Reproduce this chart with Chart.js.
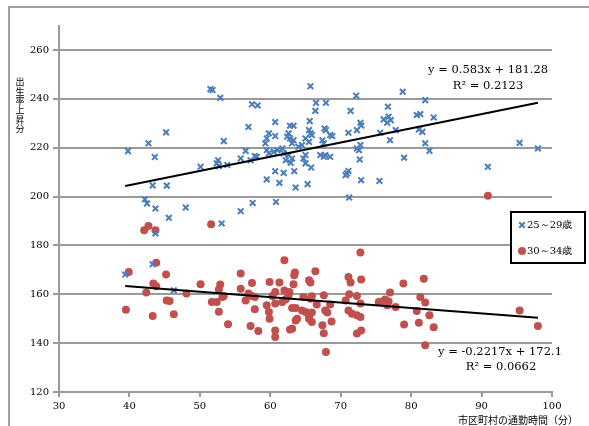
<!DOCTYPE html>
<html>
<head>
<meta charset="utf-8">
<script src="https://cdn.jsdelivr.net/npm/chart.js@4.4.0/dist/chart.umd.min.js"></script>
<style>
  html, body { margin: 0; padding: 0; background: #fff; }
</style>
</head>
<body>
<canvas id="chart" width="589" height="426"></canvas>
<script>
// 25~29 age group: [commute minutes, birth rate increase]
const age25to29 = [
    [39.8, 218.6], [42.7, 221.8], [43.6, 216.2], [45.2, 226.3], [43.3, 204.6], [45.3, 204.5],
    [42.2, 198.9], [42.5, 197.2], [43.7, 195.1], [45.6, 191.3], [48.0, 195.5], [50.1, 212.2],
    [51.5, 244.0], [51.8, 243.6], [52.9, 240.4], [53.4, 222.7], [52.6, 214.9], [52.4, 213.6],
    [52.7, 212.5], [53.9, 212.9], [55.8, 215.6], [56.5, 218.7], [56.9, 228.5], [57.2, 214.9],
    [57.8, 216.6], [57.4, 237.8], [58.2, 237.3], [55.8, 194.0], [57.5, 197.4], [53.1, 189.0],
    [43.7, 184.9], [43.3, 172.3], [39.4, 168.1], [46.3, 161.6],
    [65.7, 245.2], [66.5, 238.4], [67.9, 238.4], [66.4, 235.1], [60.7, 230.5], [62.8, 229.0],
    [63.3, 229.0], [65.6, 230.9], [67.7, 227.9], [67.9, 227.2], [59.8, 225.9], [59.5, 223.8],
    [59.3, 221.8], [60.7, 224.8], [62.6, 225.9], [62.4, 224.5], [62.8, 223.8], [65.5, 227.2],
    [65.7, 225.9], [65.9, 225.2], [65.0, 223.8], [65.5, 222.4], [63.3, 223.1], [63.1, 221.8],
    [67.4, 223.1], [67.6, 221.8], [68.5, 225.2], [59.5, 219.0], [59.8, 217.7], [60.5, 218.3],
    [61.0, 219.0], [61.7, 219.7], [61.9, 217.7], [64.0, 220.4], [64.5, 221.1], [62.6, 217.0],
    [63.1, 215.6], [65.0, 217.0], [67.1, 217.0], [67.6, 216.3], [67.8, 217.0], [58.1, 216.3],
    [62.2, 214.9], [62.9, 213.8], [64.7, 215.6], [65.0, 213.6], [65.8, 211.9], [60.7, 210.4],
    [61.9, 209.7], [63.4, 210.4], [59.5, 207.0], [61.3, 205.6], [63.6, 203.7], [65.3, 205.1],
    [60.8, 197.8],
    [72.2, 241.3], [78.8, 242.9], [71.4, 235.1], [76.7, 236.8], [76.1, 231.6], [76.8, 232.7],
    [76.6, 230.2], [77.1, 231.3], [72.8, 230.2], [72.9, 229.1], [72.3, 227.2], [71.1, 226.1],
    [68.8, 224.8], [75.6, 226.1], [77.8, 227.2], [77.0, 223.1], [72.8, 221.1], [72.3, 219.7],
    [72.6, 219.0], [68.5, 216.3], [72.7, 215.2], [79.0, 215.9], [71.1, 210.5], [70.7, 208.8],
    [70.9, 209.5], [72.9, 206.7], [75.5, 206.4], [71.2, 199.6], [82.0, 239.5], [80.8, 233.4],
    [81.3, 233.8], [83.2, 232.4], [81.1, 227.5], [81.6, 226.5], [82.0, 221.8], [82.6, 218.7],
    [95.4, 222.0], [98.0, 219.7], [90.9, 212.2]
];

// 30~34 age group
const age30to34 = [
    [42.1, 186.2], [42.7, 188.0], [43.7, 186.2], [51.6, 188.7], [43.8, 172.9], [39.9, 169.1],
    [45.2, 168.1], [43.4, 164.4], [43.8, 163.3], [42.4, 160.7], [50.1, 164.1], [55.8, 168.5],
    [52.9, 164.0], [52.7, 162.0], [57.4, 164.6], [48.1, 160.3], [55.8, 162.3], [56.9, 160.3],
    [57.4, 159.3], [45.3, 157.5], [45.7, 157.3], [51.7, 156.8], [52.4, 156.8], [53.2, 158.9],
    [53.4, 159.3], [56.5, 157.5], [57.8, 158.9], [39.5, 153.7], [43.3, 151.1], [46.3, 151.8],
    [52.7, 152.9], [57.8, 153.9], [54.0, 147.7], [57.2, 147.0], [58.3, 145.0],
    [59.9, 165.0], [61.3, 164.8], [62.0, 173.9], [63.5, 168.9], [63.4, 167.8], [66.4, 169.4],
    [65.5, 165.7], [65.7, 164.8], [63.3, 164.1], [62.0, 161.6], [62.7, 160.9], [60.7, 160.9],
    [60.3, 159.3], [60.7, 156.2], [61.7, 156.8], [62.2, 158.0], [62.6, 159.6], [64.7, 158.9],
    [65.7, 158.2], [65.9, 159.2], [66.6, 155.8], [67.6, 159.6], [59.5, 155.5], [59.8, 152.8],
    [59.9, 150.0], [63.1, 154.4], [63.6, 154.4], [64.5, 153.4], [65.0, 152.8], [65.5, 151.4],
    [65.9, 152.5], [65.5, 150.0], [67.8, 153.4], [68.1, 152.5], [63.8, 150.0], [63.6, 149.3],
    [68.7, 148.9], [60.7, 145.2], [60.7, 142.5], [62.8, 145.6], [63.1, 145.9], [67.4, 147.3],
    [67.6, 144.1], [67.9, 136.4], [65.9, 148.7], [68.5, 155.8],
    [72.8, 177.1], [71.1, 167.1], [71.4, 164.8], [72.9, 166.1], [78.9, 164.4], [71.2, 160.0],
    [72.3, 159.3], [70.7, 157.5], [72.8, 156.2], [71.1, 153.4], [71.6, 152.0], [72.3, 151.4],
    [72.8, 150.7], [77.0, 160.7], [75.4, 156.8], [75.9, 157.1], [76.3, 157.9], [76.8, 157.1],
    [76.6, 155.5], [77.8, 154.8], [79.0, 147.6], [72.3, 143.9], [72.9, 145.2], [81.8, 166.4],
    [81.3, 158.9], [82.0, 156.6], [80.8, 153.2], [82.6, 151.4], [81.1, 148.4], [83.2, 146.5],
    [82.0, 139.1], [95.4, 153.4], [98.0, 147.0], [90.9, 200.3]
];

// trend line end points
const trend25to29 = [[39.4, 204.3], [98.0, 238.4]];
const trend30to34 = [[39.4, 163.4], [98.0, 150.4]];

const seriesNames = ['25～29歳', '30～34歳'];
const trendTexts25 = ['y = 0.583x + 181.28', 'R² = 0.2123'];
const trendTexts30 = ['y = -0.2217x + 172.1', 'R² = 0.0662'];
const yAxisTitle = '出生率上昇分';
const xAxisTitle = '市区町村の通勤時間（分）';

const blue = '#4a7ebb';
const red = '#c0504d';
const gridGray = '#9a9a9a';
const serif = "'DejaVu Serif', serif";
const cjk = "'Noto Sans CJK JP', sans-serif";

function toPoints(list) {
    return list.map(p => ({ x: p[0], y: p[1] }));
}

const decorPlugin = {
    id: 'decor',
    beforeDraw(chart) {
        const ctx = chart.ctx;
        ctx.save();
        ctx.fillStyle = '#fff';
        ctx.fillRect(0, 0, chart.width, chart.height);
        ctx.strokeStyle = '#a0a0a0';
        ctx.lineWidth = 2;
        ctx.strokeRect(9, 7, 620, 460);
        ctx.restore();
    },
    afterDraw(chart) {
        const ctx = chart.ctx;
        ctx.save();

        // vertical y title, one character per line
        ctx.fillStyle = '#000';
        ctx.font = '9px ' + cjk;
        ctx.textAlign = 'center';
        ctx.textBaseline = 'middle';
        Array.from(yAxisTitle).forEach((ch, i) => {
            ctx.fillText(ch, 20, 82 + i * 9.3);
        });

        // x title
        ctx.font = '10px ' + cjk;
        ctx.textAlign = 'right';
        ctx.fillText(xAxisTitle, 578, 420);

        // trend equations
        ctx.font = '11.5px ' + serif;
        ctx.textAlign = 'center';
        ctx.fillText(trendTexts25[0], 488, 70);
        ctx.fillText(trendTexts25[1], 488, 86);
        ctx.fillText(trendTexts30[0], 500, 352);
        ctx.fillText(trendTexts30[1], 501, 367);

        // legend
        ctx.fillStyle = '#fff';
        ctx.fillRect(511, 212, 74, 51);
        ctx.strokeStyle = '#000';
        ctx.lineWidth = 2;
        ctx.strokeRect(511, 212, 74, 51);

        const mx = 522;
        ctx.strokeStyle = blue;
        ctx.lineWidth = 2;
        ctx.beginPath();
        ctx.moveTo(mx - 2.8, 225 - 2.8);
        ctx.lineTo(mx + 2.8, 225 + 2.8);
        ctx.moveTo(mx + 2.8, 225 - 2.8);
        ctx.lineTo(mx - 2.8, 225 + 2.8);
        ctx.stroke();

        ctx.fillStyle = red;
        ctx.beginPath();
        ctx.arc(mx, 251, 4, 0, Math.PI * 2);
        ctx.fill();

        ctx.fillStyle = '#000';
        ctx.font = '10px ' + serif;
        ctx.textAlign = 'left';
        ctx.fillText(seriesNames[0], 527, 225);
        ctx.fillText(seriesNames[1], 527, 251);

        ctx.restore();
    }
};

new Chart(document.getElementById('chart'), {
    type: 'scatter',
    data: {
        datasets: [
            {
                type: 'line',
                label: 'trend25',
                data: toPoints(trend25to29),
                borderColor: '#000',
                borderWidth: 2,
                pointRadius: 0,
                fill: false
            },
            {
                type: 'line',
                label: 'trend30',
                data: toPoints(trend30to34),
                borderColor: '#000',
                borderWidth: 2,
                pointRadius: 0,
                fill: false
            },
            {
                label: seriesNames[0],
                data: toPoints(age25to29),
                pointStyle: 'crossRot',
                pointRadius: 4,
                borderColor: blue,
                backgroundColor: blue,
                borderWidth: 2
            },
            {
                label: seriesNames[1],
                data: toPoints(age30to34),
                pointStyle: 'circle',
                pointRadius: 4,
                borderColor: red,
                backgroundColor: red,
                borderWidth: 0
            }
        ]
    },
    options: {
        responsive: false,
        animation: false,
        events: [],
        layout: { padding: { left: 0, top: 25.6, right: 37, bottom: 0 } },
        plugins: {
            legend: { display: false },
            tooltip: { enabled: false }
        },
        scales: {
            x: {
                type: 'linear',
                min: 30,
                max: 100,
                ticks: { stepSize: 10, color: '#000', font: { family: serif, size: 10 }, padding: 3, maxRotation: 0 },
                grid: { drawOnChartArea: false, tickLength: 5, color: gridGray, lineWidth: 2 },
                border: { color: gridGray, width: 2 },
                afterFit: s => { s.height = 34; }
            },
            y: {
                min: 120,
                max: 270,
                afterBuildTicks: s => { s.ticks = s.ticks.filter(t => t.value <= 260); },
                ticks: { stepSize: 20, color: '#000', font: { family: serif, size: 10 }, padding: 4 },
                grid: { tickLength: 6, color: gridGray, lineWidth: 2 },
                border: { color: gridGray, width: 2 },
                afterFit: s => { s.width = 59; }
            }
        }
    },
    plugins: [decorPlugin]
});
</script>
</body>
</html>
